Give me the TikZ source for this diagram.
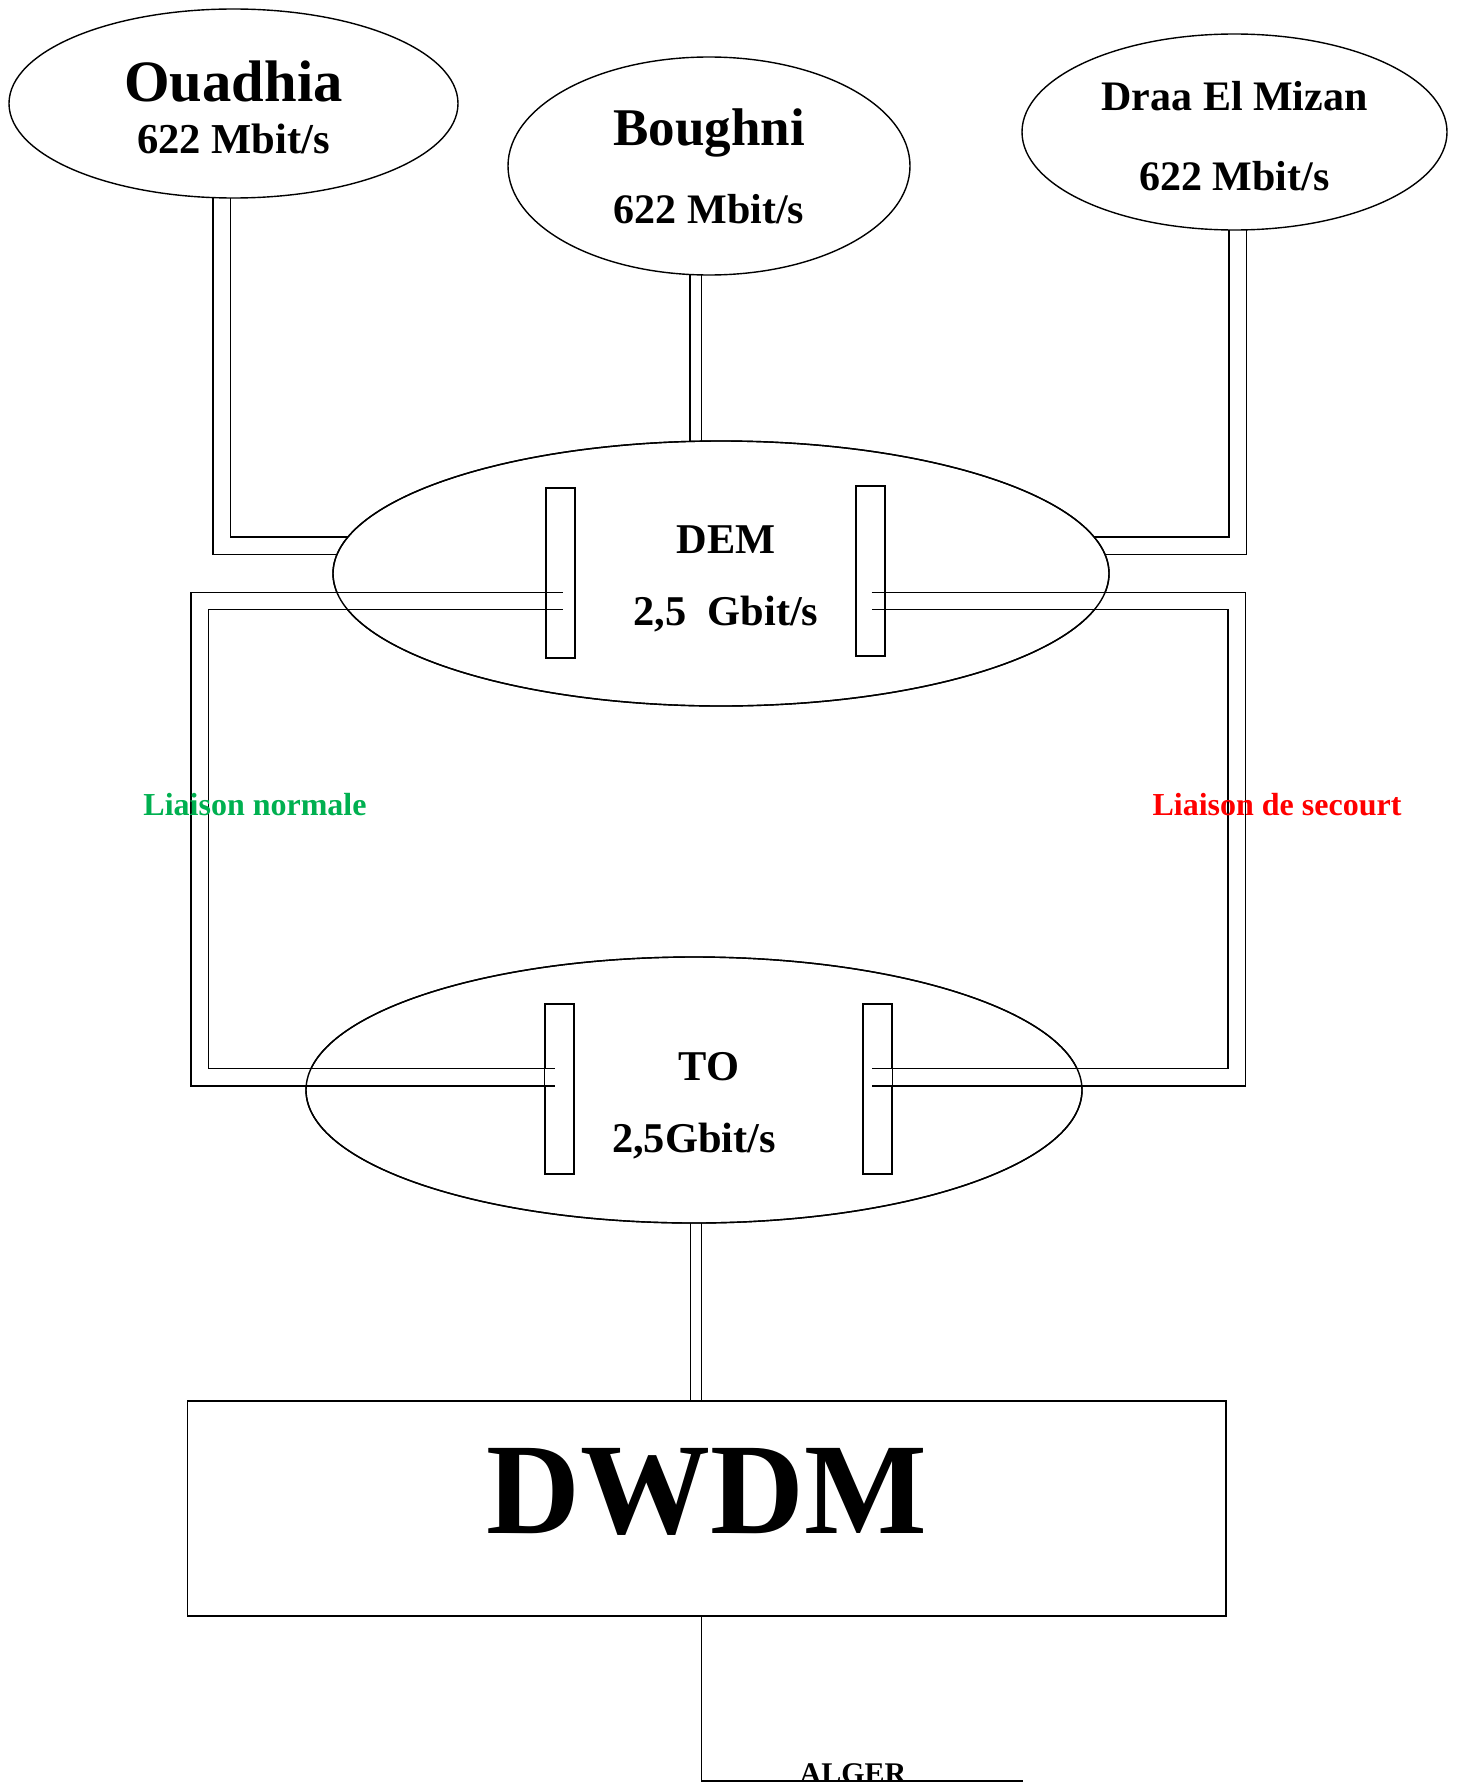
\documentclass[tikz,border=0pt]{standalone}
\usepackage{fontspec}
\setmainfont{Liberation Serif}
\usetikzlibrary{shapes.geometric,calc}
\definecolor{normcol}{RGB}{0,176,80}
\definecolor{seccol}{RGB}{255,0,0}

\tikzset{
  site/.style={draw,ellipse,fill=white,inner sep=0pt,align=center},
  card/.style={draw,rectangle,inner sep=0pt,minimum width=14.15pt,minimum height=84.85pt},
  fibre/.style={double,double distance=8pt},
  thinfibre/.style={double,double distance=5pt},
  linklabel/.style={anchor=base,font=\bfseries\fontsize{16}{16}\selectfont}
}

\begin{document}
\begin{tikzpicture}[x=0.5pt,y=-0.5pt,line width=0.7pt]
\useasboundingbox (0,0) rectangle (1457,1782);

% site centres
\coordinate (ouaC) at (233.5,103.5);
\coordinate (bouC) at (709,166);
\coordinate (draaC) at (1234.5,132);
\coordinate (demC) at (721,573.5);
\coordinate (toC) at (694,1090);
\coordinate (dwdmC) at (706.75,1508.5);

% feeders, their ends are covered by the sites
\draw[fibre] ($(ouaC)+(-11.8,0)$) |- ($(demC)+(0,-27.7)$);
\draw[fibre] ($(draaC)+(3,0)$) |- ($(demC)+(0,-27.7)$);
\draw[thinfibre] ($(bouC)+(-13.5,0)$) -- ($(demC)+(-25.5,0)$);
\draw[thinfibre] ($(toC)+(2,0)$) -- ($(dwdmC)+(-10.75,0)$);

% sites
\node[site,minimum width=224.5pt,minimum height=94.5pt,font=\bfseries\fontsize{21.3}{26}\selectfont]
  (Oua) at (ouaC) {\rule{0pt}{24.6pt}{\fontsize{29.3}{29.3}\selectfont Ouadhia}\\622 Mbit/s};
\node[site,minimum width=201pt,minimum height=109pt,font=\bfseries\fontsize{21}{38.9}\selectfont]
  (Bou) at (bouC) {{\fontsize{26.5}{26.5}\selectfont Boughni}\\622 Mbit/s};
\node[site,minimum width=212.5pt,minimum height=98pt,font=\bfseries\fontsize{21}{40.3}\selectfont]
  (Draa) at (draaC) {\rule{0pt}{18.7pt}Draa El Mizan\\622 Mbit/s};
\node[site,minimum width=388pt,minimum height=132.5pt,font=\bfseries\fontsize{21.2}{35.8}\selectfont]
  (DEM) at (demC) {\rule{0pt}{19.3pt}\hspace*{5pt}DEM\\\hspace*{5pt}2,5~~Gbit/s};
\node[site,minimum width=388pt,minimum height=133pt,font=\bfseries\fontsize{21.2}{35.8}\selectfont]
  (TO) at (toC) {\rule{0pt}{29.5pt}\hspace*{15pt}TO\\2,5Gbit/s};
\node[draw,fill=white,inner sep=0pt,minimum width=519.25pt,minimum height=107.5pt,text depth=17.5pt,
  font=\bfseries\fontsize{65}{65}\selectfont] (DWDM) at (dwdmC) {DWDM};

% ring DEM - TO
\coordinate (nbend) at (199.7,805);
\coordinate (sbend) at (1236.7,805);
\node[card] (DEMl) at (560.8,572.8) {};
\node[card] (DEMr) at (870.2,571) {};
\node[card] (TOl) at (559.5,1089) {};
\node[card] (TOr) at (877.8,1089) {};
\draw[fibre] ($(DEMl.center)+(2,28.2)$) -| (nbend) |- ($(TOl.center)+(-5,-11.7)$);
\draw[fibre] ($(DEMr.center)+(1.5,30)$) -| (sbend) |- ($(TOr.center)+(-6.1,-11.7)$);
\draw (DEM.center) ellipse [x radius=194pt,y radius=66.25pt];
\draw (TO.center) ellipse [x radius=194pt,y radius=66.5pt];
\foreach \c in {DEMl,DEMr,TOl,TOr}
  \draw (\c.south west) rectangle (\c.north east);

\node[linklabel,text=normcol] (normlab) at (255,815) {Liaison normale};
\node[linklabel,text=seccol] (seclab) at (1277,815) {Liaison de secourt};

% towards Alger
\coordinate (algend) at (1022.7,1781);
\draw ([xshift=-2.5pt]DWDM.south) |- (algend);
\node[anchor=base,font=\bfseries\fontsize{15}{15}\selectfont] (alger) at (853,1783) {ALGER};
\end{tikzpicture}
\end{document}
